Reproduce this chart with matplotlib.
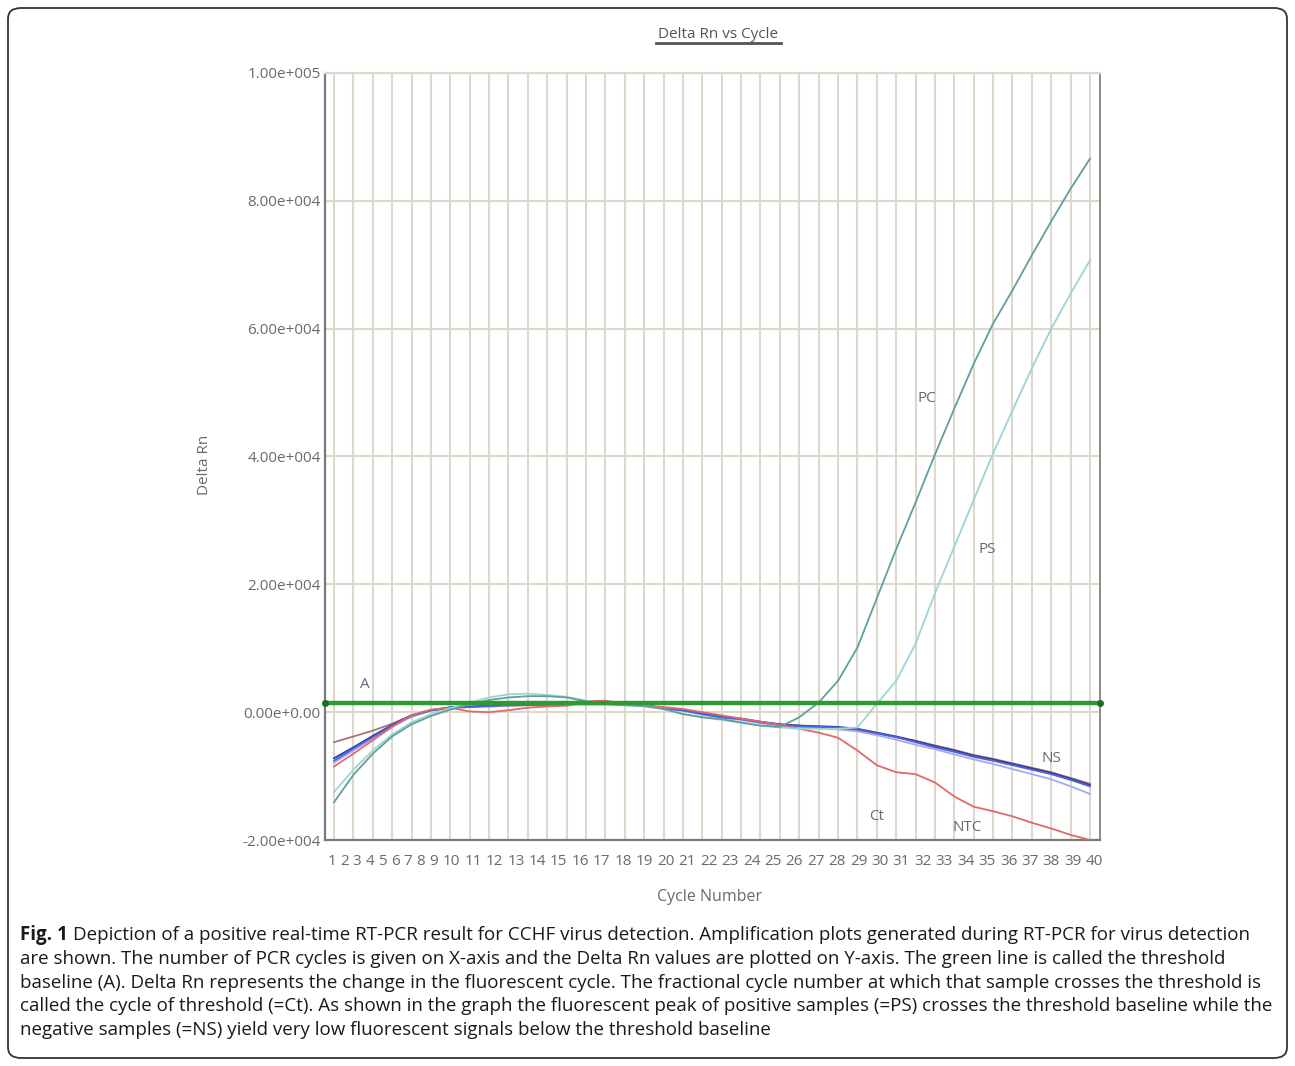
import matplotlib
matplotlib.use("Agg")
import matplotlib.pyplot as plt
from matplotlib.patches import FancyBboxPatch
from matplotlib.lines import Line2D
from matplotlib.text import Annotation

# ---------------- data ----------------
cycles = list(range(1, 41))
x_tick_labels = [str(c) for c in cycles]
y_ticks = [-20000, 0, 20000, 40000, 60000, 80000, 100000]
y_tick_labels = ["-2.00e+004", "0.00e+0.00", "2.00e+004", "4.00e+004",
                 "6.00e+004", "8.00e+004", "1.00e+005"]
threshold = 1400

pc = [-14100, -9800, -6500, -3800, -1900, -600, 400, 1200, 1900, 2300,
      2500, 2500, 2300, 1700, 1300, 1100, 1000, 500, -300, -800,
      -1100, -1600, -2100, -2300, -800, 1500, 4900, 10100, 17800, 25500,
      32800, 40300, 47500, 54500, 60800, 66000, 71500, 76800, 81900, 86600]
ps = [-12500, -9000, -6000, -3500, -1600, -300, 600, 1500, 2300, 2800,
      2900, 2700, 2400, 1800, 1300, 1100, 1000, 500, -300, -800,
      -1200, -1700, -2100, -2400, -2600, -2600, -2600, -2400, 1300, 4900,
      10700, 18600, 25900, 33200, 40500, 47200, 53800, 60000, 65500, 70700]
ntc = [-8500, -6500, -4400, -2300, -500, 400, 700, 100, 0, 300,
       700, 900, 1000, 1700, 1800, 1300, 1000, 800, 500, 0,
       -500, -1000, -1500, -2000, -2600, -3200, -4000, -6000, -8300, -9400,
       -9700, -11000, -13200, -14800, -15500, -16300, -17300, -18200, -19200, -20000]
ns_blue = [-7600, -5700, -3900, -2100, -600, 300, 800, 800, 1000, 1100,
           1100, 1200, 1200, 1300, 1300, 1200, 1000, 600, 300, -300,
           -800, -1100, -1600, -2000, -2200, -2300, -2400, -2700, -3300, -3900,
           -4700, -5500, -6200, -7000, -7600, -8300, -9000, -9700, -10600, -11600]
ns_navy = [-7200, -5500, -3700, -2000, -500, 300, 700, 900, 1000, 1100,
           1200, 1200, 1300, 1300, 1400, 1300, 1100, 700, 300, -200,
           -700, -1000, -1500, -1900, -2100, -2200, -2300, -2600, -3200, -3800,
           -4500, -5300, -6000, -6800, -7400, -8100, -8800, -9500, -10400, -11400]
ns_lav = [-7900, -6000, -4100, -2300, -700, 200, 700, 800, 900, 1000,
          1100, 1100, 1200, 1200, 1200, 1100, 900, 500, 200, -400,
          -900, -1200, -1700, -2100, -2300, -2500, -2700, -3000, -3600, -4300,
          -5100, -5800, -6600, -7400, -8100, -8900, -9700, -10500, -11600, -12800]
ns_mauve = [-4700, -3800, -2900, -1800, -500, 300, 600, 800, 900, 1000,
            1100, 1100, 1200, 1300, 1300, 1200, 1000, 700, 300, -200,
            -700, -1100, -1500, -1900, -2100, -2300, -2500, -2800, -3300, -3900,
            -4500, -5200, -5900, -6700, -7300, -8000, -8700, -9400, -10300, -11200]

series = [
    (ns_mauve, "#a87474"),
    (ns_lav, "#a4aaf0"),
    (ns_navy, "#34408e"),
    (ns_blue, "#4a63e0"),
    (ntc, "#e06a6a"),
    (ps, "#9ad6d2"),
    (pc, "#5f9f9c"),
]

annotations = [("A", 2.6, 4300), ("PC", 31.6, 49000), ("PS", 34.7, 25500),
               ("NS", 38.0, -7200), ("Ct", 29.0, -16400), ("NTC", 33.65, -18000)]

caption_lines = [
    "Depiction of a positive real-time RT-PCR result for CCHF virus detection. Amplification plots generated during RT-PCR for virus detection",
    "are shown. The number of PCR cycles is given on X-axis and the Delta Rn values are plotted on Y-axis. The green line is called the threshold",
    "baseline (A). Delta Rn represents the change in the fluorescent cycle. The fractional cycle number at which that sample crosses the threshold is",
    "called the cycle of threshold (=Ct). As shown in the graph the fluorescent peak of positive samples (=PS) crosses the threshold baseline while the",
    "negative samples (=NS) yield very low fluorescent signals below the threshold baseline",
]

# ---------------- layout ----------------
W, H = 1295, 1066
fig = plt.figure(figsize=(W / 100, H / 100), dpi=100)
fig.patch.set_facecolor("white")

FONT = ["Open Sans", "DejaVu Sans"]
CAPFONT = ["Open Sans", "DejaVu Sans"]
txt_col = "#6a6a6a"
grid_col = "#dcd8cc"

ax_l, ax_r, ax_t, ax_b = 325, 1100, 73, 840
ax = fig.add_axes([ax_l / W, (H - ax_b) / H, (ax_r - ax_l) / W, (ax_b - ax_t) / H])
ax.set_xlim(0.536, 40.515)
ax.set_ylim(-20000, 100000)

# grid
ax.set_xticks(cycles, minor=True)
ax.set_yticks(y_ticks)
ax.set_yticklabels(y_tick_labels, family=FONT, fontsize=11, color=txt_col)
ax.grid(True, which="minor", axis="x", color=grid_col, lw=1.5)
ax.grid(True, which="major", axis="y", color=grid_col, lw=1.5)
ax.tick_params(axis="x", which="both", length=0)
ax.tick_params(axis="y", length=0, pad=3)
ax.set_axisbelow(True)

# x tick labels laid out like the instrument software (compressed single digits)
pos = []
for c in cycles:
    if c < 10:
        pos.append(0.881 + (c - 1) * 0.655)
    else:
        pos.append(7.072 + (c - 10) * 1.105)
ax.set_xticks(pos)
ax.set_xticklabels(x_tick_labels, family=FONT, fontsize=11, color=txt_col)
ax.tick_params(axis="x", which="major", pad=10)

for s in ["left", "bottom"]:
    ax.spines[s].set_color("#7a7a7a")
    ax.spines[s].set_linewidth(1.6)
ax.spines["right"].set_color("#8a8a8a")
ax.spines["right"].set_linewidth(1.4)
ax.spines["top"].set_color(grid_col)
ax.spines["top"].set_linewidth(1.6)

for vals, col in series:
    ax.plot(cycles, vals, color=col, lw=1.3, zorder=3)

ax.axhline(threshold, color="#2f9a33", lw=3.2, zorder=4)
ax.plot([0.536, 40.515], [threshold, threshold], ls="none", marker="o", ms=4,
        color="#1d6e21", clip_on=False, zorder=5)

for t, x, y in annotations:
    ax.text(x, y, t, family=FONT, fontsize=11, color=txt_col, ha="center", va="center")

# axis titles
fig.text(718 / W, 1 - 34 / H, "Delta Rn vs Cycle", family=FONT, fontsize=11,
         color="#555555", ha="center", va="center")
fig.add_artist(Line2D([656 / W, 781 / W], [1 - 43 / H, 1 - 43 / H], color="#555555", lw=2.0))
fig.text(205 / W, 1 - 465 / H, "Delta Rn", family=FONT, fontsize=11, color=txt_col,
         rotation=90, ha="center", va="center")
fig.text(710 / W, 1 - 897 / H, "Cycle Number", family=FONT, fontsize=11.5, color=txt_col,
         ha="center", va="center")

# caption
y0 = 935
for i, line in enumerate(caption_lines):
    yy = 1 - (y0 + i * 23.8) / H
    if i == 0:
        b = fig.text(20 / W, yy, "Fig. 1", family=CAPFONT, fontsize=13.5, weight="bold",
                     color="#1a1a1a", ha="left", va="center")
        fig.add_artist(Annotation(
            line, xy=(1, 0.5), xycoords=b, xytext=(4, 0), textcoords="offset points",
            family=CAPFONT, fontsize=13.5, color="#1a1a1a", ha="left", va="center"))
    else:
        fig.text(20 / W, yy, line, family=CAPFONT, fontsize=13.5, color="#1a1a1a",
                 ha="left", va="center")

# frame
fig.add_artist(FancyBboxPatch((8 / W, 8 / H), (1279) / W, (1050) / H,
                              boxstyle="round,pad=0,rounding_size=0.01",
                              transform=fig.transFigure, fill=False,
                              edgecolor="#333333", lw=1.3))

fig.savefig("out.png", dpi=100)
